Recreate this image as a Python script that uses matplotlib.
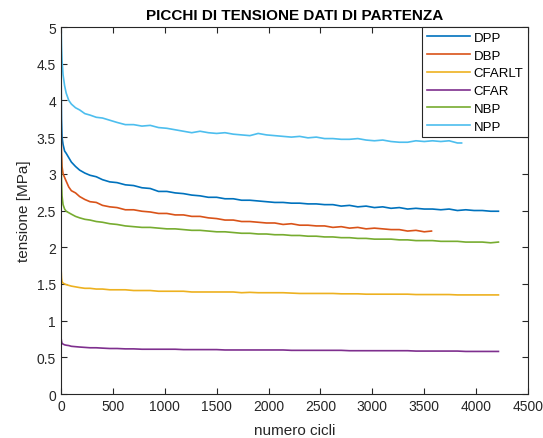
"""
Peak stress vs. number of cycles for the starting data sets.
"""
import matplotlib
matplotlib.use('Agg')
import matplotlib.pyplot as plt


# cycle counts at which the curves were read
cycles = [0, 2, 5, 10, 20, 35, 50, 75, 100, 140, 180, 230, 280, 340, 400, 470, 540, 620, 700,
          780, 860, 940, 1020, 1100, 1180, 1260, 1340, 1420, 1500, 1580, 1660, 1740, 1820, 1900,
          1980, 2060, 2140, 2220, 2300, 2380, 2460, 2540, 2620, 2700, 2780, 2860, 2940, 3020,
          3100, 3180, 3260, 3340, 3420, 3500, 3580, 3660, 3740, 3820, 3900, 3980, 4060, 4140, 4215]
cycles_dbp = cycles[:54] + [3570]
cycles_npp = cycles[:58] + [3860]

dpp = [0.35, 4.20, 3.75, 3.50, 3.40, 3.31, 3.28, 3.22, 3.16, 3.10, 3.05, 3.01, 2.98, 2.96, 2.92,
       2.89, 2.88, 2.85, 2.84, 2.81, 2.80, 2.76, 2.76, 2.74, 2.73, 2.71, 2.70, 2.68, 2.68, 2.66,
       2.66, 2.64, 2.64, 2.63, 2.62, 2.61, 2.61, 2.60, 2.60, 2.59, 2.59, 2.58, 2.58, 2.56, 2.57,
       2.55, 2.56, 2.54, 2.55, 2.53, 2.54, 2.52, 2.53, 2.52, 2.52, 2.51, 2.52, 2.50, 2.51, 2.50,
       2.50, 2.49, 2.49]
dbp = [0.30, 3.55, 3.30, 3.10, 3.00, 2.95, 2.90, 2.82, 2.77, 2.74, 2.69, 2.65, 2.62, 2.61, 2.57,
       2.55, 2.54, 2.51, 2.51, 2.49, 2.48, 2.46, 2.46, 2.44, 2.44, 2.42, 2.42, 2.40, 2.39, 2.37,
       2.37, 2.35, 2.35, 2.34, 2.33, 2.33, 2.31, 2.32, 2.30, 2.30, 2.29, 2.29, 2.27, 2.28, 2.26,
       2.27, 2.25, 2.26, 2.25, 2.24, 2.24, 2.22, 2.23, 2.21, 2.22]
cfarlt = [0.40, 1.67, 1.58, 1.53, 1.51, 1.50, 1.49, 1.48, 1.47, 1.46, 1.45, 1.44, 1.44, 1.43, 1.43,
          1.42, 1.42, 1.42, 1.41, 1.41, 1.41, 1.40, 1.40, 1.40, 1.40, 1.39, 1.39, 1.39, 1.39, 1.39,
          1.39, 1.38, 1.385, 1.38, 1.38, 1.38, 1.38, 1.375, 1.37, 1.37, 1.37, 1.37, 1.37, 1.365,
          1.365, 1.365, 1.36, 1.36, 1.36, 1.36, 1.36, 1.36, 1.355, 1.355, 1.355, 1.355, 1.355,
          1.35, 1.35, 1.35, 1.35, 1.35, 1.35]
cfar = [0.15, 0.75, 0.72, 0.69, 0.68, 0.67, 0.665, 0.66, 0.65, 0.645, 0.64, 0.635, 0.63, 0.63,
        0.625, 0.62, 0.62, 0.615, 0.615, 0.61, 0.61, 0.61, 0.61, 0.61, 0.605, 0.605, 0.605, 0.605,
        0.605, 0.60, 0.60, 0.60, 0.60, 0.60, 0.60, 0.60, 0.60, 0.595, 0.595, 0.595, 0.595, 0.595,
        0.595, 0.595, 0.59, 0.59, 0.59, 0.59, 0.59, 0.59, 0.59, 0.59, 0.585, 0.585, 0.585, 0.585,
        0.585, 0.585, 0.58, 0.58, 0.58, 0.58, 0.58]
nbp = [0.25, 3.30, 2.90, 2.70, 2.58, 2.52, 2.49, 2.47, 2.45, 2.42, 2.40, 2.38, 2.37, 2.35, 2.34,
       2.32, 2.31, 2.29, 2.28, 2.27, 2.27, 2.26, 2.25, 2.25, 2.24, 2.23, 2.23, 2.22, 2.21, 2.21,
       2.20, 2.19, 2.19, 2.18, 2.18, 2.17, 2.17, 2.16, 2.16, 2.15, 2.15, 2.14, 2.14, 2.13, 2.13,
       2.12, 2.12, 2.11, 2.11, 2.11, 2.10, 2.10, 2.09, 2.09, 2.09, 2.08, 2.08, 2.08, 2.07, 2.07,
       2.07, 2.06, 2.07]
npp = [0.50, 4.97, 4.75, 4.55, 4.35, 4.20, 4.10, 4.00, 3.95, 3.90, 3.87, 3.82, 3.80, 3.77, 3.76,
       3.73, 3.70, 3.67, 3.67, 3.65, 3.66, 3.63, 3.62, 3.60, 3.58, 3.56, 3.58, 3.56, 3.55, 3.56,
       3.54, 3.53, 3.52, 3.55, 3.53, 3.52, 3.51, 3.50, 3.51, 3.49, 3.50, 3.48, 3.48, 3.47, 3.47,
       3.48, 3.46, 3.45, 3.46, 3.44, 3.43, 3.43, 3.45, 3.44, 3.45, 3.44, 3.45, 3.42, 3.42]

labels = ["DPP", "DBP", "CFARLT", "CFAR", "NBP", "NPP"]
# MATLAB default color order
colors = ['#0072BD', '#D95319', '#EDB120', '#7E2F8E', '#77AC30', '#4DBEEE']

plt.rcParams['font.family'] = ['Liberation Sans', 'DejaVu Sans']

fig = plt.figure(figsize=(5.43, 4.39), dpi=100)
ax = fig.add_axes([0.1123, 0.1002, 0.8601, 0.836])

series = [(cycles, dpp), (cycles_dbp, dbp), (cycles, cfarlt),
          (cycles, cfar), (cycles, nbp), (cycles_npp, npp)]
for (x, y), lab, c in zip(series, labels, colors):
    ax.plot(x, y, color=c, linewidth=1.2, label=lab)

ax.set_xlim(0, 4500)
ax.set_ylim(0, 5)
ax.set_xticks(range(0, 4501, 500))
ax.set_yticks([i * 0.5 for i in range(11)])
ax.set_yticklabels(['0', '0.5', '1', '1.5', '2', '2.5', '3', '3.5', '4', '4.5', '5'])
ax.tick_params(direction='in', length=4, colors='#262626', labelsize=10, top=True, right=True)
for sp in ax.spines.values():
    sp.set_color('#262626')
    sp.set_linewidth(0.8)

ax.set_xlabel("numero cicli", fontsize=11, color='#262626', labelpad=7)
ax.set_ylabel("tensione [MPa]", fontsize=11, color='#262626')
ax.set_title("PICCHI DI TENSIONE DATI DI PARTENZA", fontsize=11, fontweight='bold', pad=6)

leg = ax.legend(loc='upper right', fontsize=9.5, borderaxespad=0, fancybox=False,
                handlelength=3.3, handletextpad=0.25, borderpad=0.35, labelspacing=0.42,
                edgecolor='#262626', framealpha=1)
leg.get_frame().set_linewidth(0.8)

plt.savefig("out.png", dpi=100)
plt.close()
